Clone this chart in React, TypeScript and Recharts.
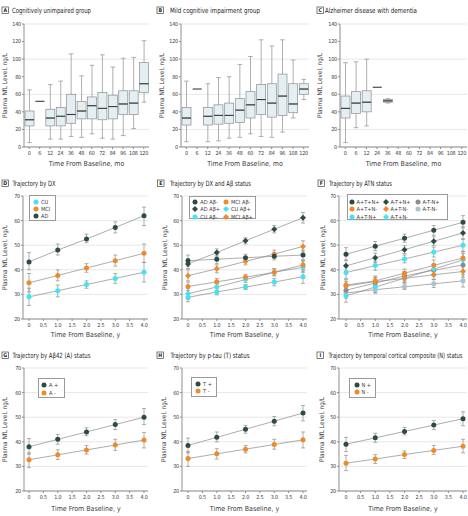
import { ComposedChart, Bar, Line, XAxis, YAxis, CartesianGrid, ErrorBar, Legend } from 'recharts';

const FONT = "'Liberation Sans Narrow', 'DejaVu Sans Condensed', 'Roboto Condensed', Roboto, sans-serif";
const INK = '#3a3a3a';
const AXIS = '#8e8e8e';
const GRID = '#dedede';
const LINE = '#8a8a8a';
const BOX_FILL = '#e4eff3';

const DARK = '#2c4a46';
const ORANGE = '#f08a28';
const CYAN = '#42e3f2';
const GRAY = '#8d8d8d';
const PALE = '#a9c5ca';

// box plots, one entry per visit: [min, q1, median, q3, max]
const MONTHS = ['0', '6', '12', '24', '36', '48', '60', '72', '84', '96', '108', '120'];
const BOX_TICKS = [0, 20, 40, 60, 80, 100, 120, 140];
const CU_BOXES = [
  [5, 24, 31, 41, 65], [52, 52, 52, 52, 52], [9, 24, 33, 43, 71], [9, 24, 35, 45, 75],
  [12, 27, 37, 60, 106], [11, 32, 41, 52, 81], [15, 32, 47, 57, 93], [10, 31, 44, 62, 105],
  [9, 32, 46, 59, 91], [13, 37, 49, 64, 101], [21, 37, 50, 64, 102], [51, 62, 72, 96, 121],
];
const MCI_BOXES = [
  [6, 25, 33, 45, 75], [66, 66, 66, 66, 66], [6, 25, 35, 45, 72], [7, 26, 36, 48, 79],
  [10, 27, 36, 50, 80], [11, 28, 42, 55, 94], [15, 33, 48, 63, 103], [12, 37, 54, 71, 122],
  [11, 34, 50, 72, 115], [17, 36, 58, 83, 122], [33, 39, 49, 72, 99], [54, 60, 66, 72, 77],
];
const AD_BOXES = [
  [5, 33, 44, 58, 96], [22, 38, 50, 63, 97], [24, 40, 51, 64, 100], [68, 68, 68, 68, 68],
  [50, 51, 52.5, 54, 55], null, null, null, null, null, null, null,
];

// trajectories: mean and 95% CI per year
const YEARS = [0, 1, 2, 3, 4];
const YEAR_TICKS = [0, 0.5, 1, 1.5, 2, 2.5, 3, 3.5, 4];
const NFL_TICKS = [20, 30, 40, 50, 60, 70];

const DX_CU = { mean: [29, 31.5, 34, 36.5, 39], lo: [25.5, 29, 32.5, 34.5, 35], hi: [32.5, 33.8, 35.5, 38.5, 43] };
const DX_MCI = { mean: [34.7, 37.7, 40.7, 43.7, 46.7], lo: [31, 35.5, 39, 41.5, 43], hi: [38.5, 40, 42.5, 46, 50.5] };
const DX_AD = { mean: [43.2, 48, 52.5, 57.2, 62], lo: [40, 46, 51, 55, 58], hi: [47, 50.5, 54.5, 59.5, 65.5] };

const AD_NEG = { mean: [43.7, 44.3, 44.9, 45.5, 46], lo: [41.5, 42.5, 43.5, 44, 44], hi: [46, 46, 46.3, 47, 48] };
const AD_POS = { mean: [42.4, 47, 51.8, 56.5, 61.2], lo: [40.5, 45.5, 50.5, 55, 59], hi: [44.5, 48.5, 53, 58, 63.3] };
const MCI_NEG = { mean: [33.2, 35.1, 37, 39, 42], lo: [31.5, 33.8, 36, 37.8, 40], hi: [35, 36.5, 38.2, 40.3, 44] };
const MCI_POS = { mean: [37.6, 40.4, 43.4, 46.4, 49.5], lo: [35.5, 38.8, 42, 44.8, 47.3], hi: [40, 42, 44.8, 48, 51.8] };
const CU_NEG = { mean: [28.8, 31, 33, 35, 37.2], lo: [27, 29.8, 32, 33.5, 34.5], hi: [30.5, 32.3, 34, 36.5, 39.5] };
const CU_POS = { mean: [30.3, 33, 36, 39, 41], lo: [28, 31.5, 34.8, 37.5, 39], hi: [32.5, 34.5, 37.3, 40.5, 43.5] };

const ATN_PPP = { mean: [46.3, 49.6, 52.8, 56.1, 59.3], lo: [44, 47.8, 51.2, 54, 57], hi: [49, 51.5, 54.5, 58, 62] };
const ATN_NPP = { mean: [41.6, 44.9, 48.2, 51.6, 55], lo: [39.5, 43, 46.6, 49.8, 52.5], hi: [43.8, 46.8, 49.8, 53.4, 57.5] };
const ATN_NNP = { mean: [31.7, 34.6, 37.5, 39.8, 42], lo: [29, 32.5, 35.5, 37.5, 39.5], hi: [34.5, 36.8, 39.3, 42, 44.5] };
const ATN_PPN = { mean: [33.8, 35.5, 38.6, 41.8, 44.8], lo: [31.5, 33.5, 36.8, 39.5, 42], hi: [36, 37.5, 40.3, 44, 47.5] };
const ATN_PNN = { mean: [33.4, 35.2, 36.5, 38, 39.3], lo: [31.5, 33.5, 35, 36.2, 37], hi: [35.3, 37, 38, 40, 41.5] };
const ATN_NNN = { mean: [30.6, 31.9, 33.1, 34.3, 35.5], lo: [28.5, 30.5, 32, 32.8, 33], hi: [32.8, 33.3, 34.3, 36, 38] };
const ATN_PNP = { mean: [38.9, 41.7, 44.4, 47.2, 50], lo: [36.5, 39.8, 42.8, 45.2, 47.5], hi: [41.2, 43.6, 46, 49.2, 52.5] };
const ATN_NPN = { mean: [29.4, 33, 36.6, 40.3, 44], lo: [26.8, 30.8, 34.8, 38.3, 41.3], hi: [32, 35.2, 38.4, 42.3, 46.7] };

const A_POS = { mean: [38, 41, 44, 47, 50], lo: [35, 39, 42.5, 45, 47], hi: [41.3, 43, 45.7, 49, 53.5] };
const A_NEG = { mean: [32.7, 34.7, 36.7, 38.7, 40.7], lo: [29.5, 32.8, 35, 36.5, 37.5], hi: [35.5, 36.8, 38.5, 41, 43.8] };
const T_POS = { mean: [38.5, 41.8, 45.1, 48.4, 51.7], lo: [35.5, 40, 43.5, 46.5, 48.5], hi: [41.5, 44, 46.7, 50.3, 54.8] };
const T_NEG = { mean: [33.2, 35.1, 37, 38.9, 40.8], lo: [30, 33, 35.5, 37, 37.5], hi: [36, 37.2, 38.5, 41, 44] };
const N_POS = { mean: [39, 41.6, 44.2, 46.8, 49.4], lo: [36, 39.8, 42.8, 45, 46.5], hi: [41.8, 43.5, 45.8, 48.7, 52.2] };
const N_NEG = { mean: [31.3, 33, 34.8, 36.5, 38.2], lo: [28.3, 31.2, 33.2, 34.8, 35.5], hi: [34.5, 34.8, 36.3, 38.5, 41] };

const tickStyle = { fontSize: 5.4, fill: INK, fontFamily: FONT, letterSpacing: -0.2 };
const xTitleStyle = { fontSize: 7, fill: INK, fontFamily: FONT, textAnchor: 'middle' as const };
const yTitleStyle = { fontSize: 6.4, fill: INK, fontFamily: FONT, textAnchor: 'middle' as const };
const yearLabel = (v: number) => (v === 0 ? '0' : v.toFixed(1));

function lowWhisker(p: any) {
  if (p.payload?.med == null || !p.height) return <g />;
  const cx = p.x + p.width / 2;
  const bottom = p.y + p.height;
  return (
    <g>
      <line x1={cx} x2={cx} y1={p.y} y2={bottom} stroke={AXIS} strokeWidth={0.7} />
      <line x1={cx - 2.3} x2={cx + 2.3} y1={bottom} y2={bottom} stroke={AXIS} strokeWidth={0.7} />
    </g>
  );
}

function highWhisker(p: any) {
  if (p.payload?.med == null || !p.height) return <g />;
  const cx = p.x + p.width / 2;
  return (
    <g>
      <line x1={cx} x2={cx} y1={p.y} y2={p.y + p.height} stroke={AXIS} strokeWidth={0.7} />
      <line x1={cx - 2.3} x2={cx + 2.3} y1={p.y} y2={p.y} stroke={AXIS} strokeWidth={0.7} />
    </g>
  );
}

function lowerBox(p: any) {
  if (p.payload?.med == null || !p.height) return <g />;
  return <rect x={p.x} y={p.y} width={p.width} height={p.height} fill={BOX_FILL} stroke={AXIS} strokeWidth={0.7} />;
}

function upperBox(p: any) {
  if (p.payload?.med == null) return <g />;
  const medY = p.y + p.height;
  return (
    <g>
      {p.height > 0 && (
        <rect x={p.x} y={p.y} width={p.width} height={p.height} fill={BOX_FILL} stroke={AXIS} strokeWidth={0.7} />
      )}
      <line x1={p.x} x2={p.x + p.width} y1={medY} y2={medY} stroke="#3a3a3a" strokeWidth={1.1} />
    </g>
  );
}

// panel headings: boxed letter + title, each title fitted to the width it has in the figure
const TITLES = [
  { letter: 'A', text: 'Cognitively unimpaired group', x: 2, tx: 12, y: 7, w: 79 },
  { letter: 'B', text: 'Mild cognitive impairment group', x: 157, tx: 170, y: 7, w: 90 },
  { letter: 'C', text: 'Alzheimer disease with dementia', x: 317, tx: 325, y: 7, w: 92 },
  { letter: 'D', text: 'Trajectory by DX', x: 2, tx: 12.5, y: 180, w: 43 },
  { letter: 'E', text: 'Trajectory by DX and Aβ status', x: 157.5, tx: 170, y: 180, w: 81 },
  { letter: 'F', text: 'Trajectory by ATN status', x: 318, tx: 329, y: 180, w: 63 },
  { letter: 'G', text: 'Trajectory by Aβ42 (A) status', x: 2, tx: 12.5, y: 352, w: 78 },
  { letter: 'H', text: 'Trajectory by p-tau (T) status', x: 157, tx: 170.5, y: 352, w: 79 },
  { letter: 'I', text: 'Trajectory by temporal cortical composite (N) status', x: 317, tx: 328.5, y: 352, w: 134 },
];

function Titles() {
  return (
    <svg width={468} height={516} style={{ position: 'absolute', left: 0, top: 0, pointerEvents: 'none' }}>
      {TITLES.map((t) => (
        <g key={t.letter} fontFamily={FONT}>
          <rect x={t.x} y={t.y} width={6.5} height={6.5} fill="#fff" stroke="#444" strokeWidth={0.7} />
          <text x={t.x + 3.25} y={t.y + 5.3} fontSize={5.2} fontWeight={700} textAnchor="middle" fill="#222">
            {t.letter}
          </text>
          <text x={t.tx} y={t.y + 5.8} fontSize={7.2} fill="#222" textLength={t.w} lengthAdjust="spacingAndGlyphs">
            {t.text}
          </text>
        </g>
      ))}
    </svg>
  );
}

function BoxPanel({ left, top, width, yAxisWidth, labelX, boxes }: any) {
  const data = MONTHS.map((month, i) => {
    const b = boxes[i];
    if (!b) return { month };
    const [mn, q1, md, q3, mx] = b;
    return { month, med: md, base: mn, lw: q1 - mn, b1: md - q1, b2: q3 - md, uw: mx - q3 };
  });
  return (
    <div style={{ position: 'absolute', left, top }}>
      <ComposedChart width={width} height={153} data={data} margin={{ top: 8, right: 0, bottom: 3, left: 0 }}>
        <CartesianGrid vertical={false} stroke={GRID} strokeWidth={0.7} />
        <XAxis
          dataKey="month"
          interval={0}
          height={19}
          tick={tickStyle}
          tickSize={2}
          tickMargin={2}
          stroke={AXIS}
          label={{ value: 'Time From Baseline, mo', position: 'insideBottom', offset: 0, style: xTitleStyle }}
        />
        <YAxis
          domain={[0, 140]}
          ticks={BOX_TICKS}
          width={yAxisWidth}
          tick={tickStyle}
          tickSize={2}
          tickMargin={1}
          stroke={AXIS}
          label={{ value: 'Plasma NfL Level, ng/L', angle: -90, position: 'insideLeft', offset: labelX, style: yTitleStyle }}
        />
        <Bar dataKey="base" stackId="box" barSize={9} shape={() => <g />} isAnimationActive={false} />
        <Bar dataKey="lw" stackId="box" barSize={9} shape={lowWhisker} isAnimationActive={false} />
        <Bar dataKey="b1" stackId="box" barSize={9} shape={lowerBox} isAnimationActive={false} />
        <Bar dataKey="b2" stackId="box" barSize={9} shape={upperBox} isAnimationActive={false} />
        <Bar dataKey="uw" stackId="box" barSize={9} shape={highWhisker} isAnimationActive={false} />
      </ComposedChart>
    </div>
  );
}

function Marker({ cx, cy, color, shape }: any) {
  if (cx == null || cy == null) return <g />;
  if (shape === 'diamond') {
    const r = 3;
    return <path d={`M${cx},${cy - r}L${cx + r},${cy}L${cx},${cy + r}L${cx - r},${cy}Z`} fill={color} />;
  }
  return <circle cx={cx} cy={cy} r={2.5} fill={color} />;
}

function LegendBox({ box, series, order, cols, rowTop, rowGap, colX }: any) {
  const items = order.map((k: string) => series.find((s: any) => s.key === k));
  return (
    <div
      style={{
        position: 'relative', width: box.w, height: box.h, border: '0.8px solid #9a9a9a', background: '#fff',
        boxSizing: 'border-box', fontFamily: FONT, fontSize: 5.6, color: INK,
      }}
    >
      {items.map((s: any, i: number) => {
        const col = i % cols;
        const row = Math.floor(i / cols);
        const cy = rowTop + row * rowGap;
        return (
          <div key={s.key}>
            <svg style={{ position: 'absolute', left: colX[col] - 4, top: cy - 4 }} width={8} height={8}>
              <Marker cx={4} cy={4} color={s.color} shape={s.shape} />
            </svg>
            <span style={{ position: 'absolute', left: colX[col] + 5, top: cy - 4, lineHeight: '8px', whiteSpace: 'nowrap' }}>
              {s.name}
            </span>
          </div>
        );
      })}
    </div>
  );
}

function TrajectoryPanel({ left, top, width, xAxisHeight, yAxisWidth, pad, labelX, series, legend }: any) {
  const data = YEARS.map((t, i) => {
    const row: any = { t };
    series.forEach((s: any) => {
      row[s.key] = s.mean[i];
      row[s.key + 'Err'] = [s.mean[i] - s.lo[i], s.hi[i] - s.mean[i]];
    });
    return row;
  });
  return (
    <div style={{ position: 'absolute', left, top }}>
      <ComposedChart width={width} height={134 + xAxisHeight} data={data} margin={{ top: 8, right: 0, bottom: 3, left: 0 }}>
        <CartesianGrid vertical={false} stroke={GRID} strokeWidth={0.7} />
        <XAxis
          dataKey="t"
          type="number"
          domain={[0, 4]}
          ticks={YEAR_TICKS}
          interval={0}
          tickFormatter={yearLabel}
          padding={pad}
          height={xAxisHeight}
          tick={tickStyle}
          tickSize={2}
          tickMargin={2}
          stroke={AXIS}
          label={{ value: 'Time From Baseline, y', position: 'insideBottom', offset: 0, style: xTitleStyle }}
        />
        <YAxis
          domain={[20, 70]}
          ticks={NFL_TICKS}
          width={yAxisWidth}
          tick={tickStyle}
          tickSize={2}
          tickMargin={1}
          stroke={AXIS}
          label={{ value: 'Plasma NfL Level, ng/L', angle: -90, position: 'insideLeft', offset: labelX, style: yTitleStyle }}
        />
        {series.map((s: any) => (
          <Line
            key={s.key}
            dataKey={s.key}
            stroke={LINE}
            strokeWidth={0.7}
            isAnimationActive={false}
            activeDot={false}
            dot={(p: any) => <Marker key={`${s.key}-${p.index}`} cx={p.cx} cy={p.cy} color={s.color} shape={s.shape} />}
          >
            <ErrorBar dataKey={s.key + 'Err'} width={2} stroke={AXIS} strokeWidth={0.7} direction="y" />
          </Line>
        ))}
        <Legend
          layout="vertical"
          align="center"
          verticalAlign="middle"
          wrapperStyle={{ left: legend.box.x - left, top: legend.box.y - top, width: legend.box.w, height: legend.box.h }}
          content={() => <LegendBox series={series} {...legend} />}
        />
      </ComposedChart>
    </div>
  );
}

const DX_SERIES = [
  { key: 'cu', name: 'CU', color: CYAN, shape: 'circle', ...DX_CU },
  { key: 'mci', name: 'MCI', color: ORANGE, shape: 'circle', ...DX_MCI },
  { key: 'ad', name: 'AD', color: DARK, shape: 'circle', ...DX_AD },
];
const AB_SERIES = [
  { key: 'cuNeg', name: 'CU Aβ-', color: CYAN, shape: 'circle', ...CU_NEG },
  { key: 'cuPos', name: 'CU Aβ+', color: CYAN, shape: 'diamond', ...CU_POS },
  { key: 'mciNeg', name: 'MCI Aβ-', color: ORANGE, shape: 'circle', ...MCI_NEG },
  { key: 'mciPos', name: 'MCI Aβ+', color: ORANGE, shape: 'diamond', ...MCI_POS },
  { key: 'adNeg', name: 'AD Aβ-', color: DARK, shape: 'circle', ...AD_NEG },
  { key: 'adPos', name: 'AD Aβ+', color: DARK, shape: 'diamond', ...AD_POS },
];
const ATN_SERIES = [
  { key: 'nnn', name: 'A-T-N-', color: PALE, shape: 'circle', ...ATN_NNN },
  { key: 'nnp', name: 'A-T-N+', color: GRAY, shape: 'circle', ...ATN_NNP },
  { key: 'npn', name: 'A-T+N-', color: CYAN, shape: 'diamond', ...ATN_NPN },
  { key: 'pnn', name: 'A+T-N-', color: ORANGE, shape: 'diamond', ...ATN_PNN },
  { key: 'ppn', name: 'A+T+N-', color: ORANGE, shape: 'circle', ...ATN_PPN },
  { key: 'pnp', name: 'A+T-N+', color: CYAN, shape: 'circle', ...ATN_PNP },
  { key: 'npp', name: 'A-T+N+', color: DARK, shape: 'diamond', ...ATN_NPP },
  { key: 'ppp', name: 'A+T+N+', color: DARK, shape: 'circle', ...ATN_PPP },
];
const A_SERIES = [
  { key: 'aNeg', name: 'A -', color: ORANGE, shape: 'circle', ...A_NEG },
  { key: 'aPos', name: 'A +', color: DARK, shape: 'circle', ...A_POS },
];
const T_SERIES = [
  { key: 'tNeg', name: 'T -', color: ORANGE, shape: 'circle', ...T_NEG },
  { key: 'tPos', name: 'T +', color: DARK, shape: 'circle', ...T_POS },
];
const N_SERIES = [
  { key: 'nNeg', name: 'N -', color: ORANGE, shape: 'circle', ...N_NEG },
  { key: 'nPos', name: 'N +', color: DARK, shape: 'circle', ...N_POS },
];

export default function App() {
  return (
    <div style={{ position: 'absolute', left: 0, top: 0, width: 468, height: 516, background: '#fff', overflow: 'hidden' }}>
      <BoxPanel left={0} top={16} width={149} yAxisWidth={24} labelX={5} boxes={CU_BOXES} />
      <BoxPanel left={150} top={16} width={159} yAxisWidth={31} labelX={12} boxes={MCI_BOXES} />
      <BoxPanel left={305} top={16} width={162} yAxisWidth={35} labelX={15} boxes={AD_BOXES} />

      <TrajectoryPanel
        left={0} top={188} width={148} xAxisHeight={18} yAxisWidth={23} pad={{ left: 6, right: 4 }} labelX={5}
        series={DX_SERIES}
        legend={{ box: { x: 29, y: 195, w: 27, h: 26 }, order: ['cu', 'mci', 'ad'], cols: 1, rowTop: 5.7, rowGap: 7, colX: [6] }}
      />
      <TrajectoryPanel
        left={150} top={188} width={157} xAxisHeight={18} yAxisWidth={32} pad={{ left: 6, right: 4 }} labelX={15}
        series={AB_SERIES}
        legend={{
          box: { x: 189, y: 196, w: 67, h: 23 }, order: ['adNeg', 'mciNeg', 'adPos', 'cuPos', 'cuNeg', 'mciPos'],
          cols: 2, rowTop: 4.5, rowGap: 7.6, colX: [5.3, 36],
        }}
      />
      <TrajectoryPanel
        left={305} top={188} width={162} xAxisHeight={18} yAxisWidth={34} pad={{ left: 7, right: 4 }} labelX={18}
        series={ATN_SERIES}
        legend={{
          box: { x: 347, y: 194, w: 101, h: 26 }, order: ['ppp', 'npp', 'nnp', 'ppn', 'pnn', 'nnn', 'pnp', 'npn'],
          cols: 3, rowTop: 6.5, rowGap: 7.5, colX: [3.5, 37.5, 69.5],
        }}
      />

      <TrajectoryPanel
        left={0} top={360} width={148} xAxisHeight={20} yAxisWidth={24} pad={{ left: 5, right: 4 }} labelX={5}
        series={A_SERIES}
        legend={{ box: { x: 38, y: 378, w: 27, h: 20 }, order: ['aPos', 'aNeg'], cols: 1, rowTop: 5.6, rowGap: 8.4, colX: [5] }}
      />
      <TrajectoryPanel
        left={150} top={360} width={157} xAxisHeight={20} yAxisWidth={32} pad={{ left: 6, right: 4 }} labelX={14}
        series={T_SERIES}
        legend={{ box: { x: 191, y: 377, w: 26, h: 20 }, order: ['tPos', 'tNeg'], cols: 1, rowTop: 6, rowGap: 7.4, colX: [6] }}
      />
      <TrajectoryPanel
        left={305} top={360} width={162} xAxisHeight={20} yAxisWidth={34} pad={{ left: 7, right: 4 }} labelX={17}
        series={N_SERIES}
        legend={{ box: { x: 349, y: 378, w: 27, h: 20 }, order: ['nPos', 'nNeg'], cols: 1, rowTop: 6, rowGap: 7, colX: [6.5] }}
      />

      <Titles />
    </div>
  );
}
